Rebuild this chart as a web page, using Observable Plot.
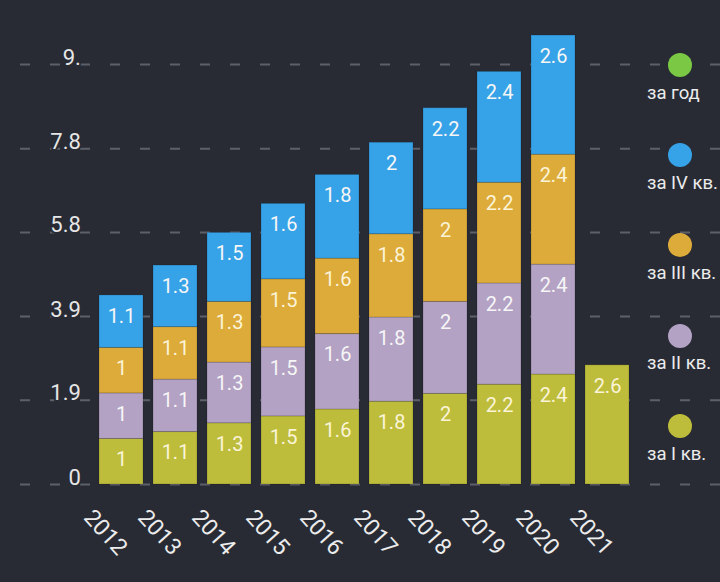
<!DOCTYPE html>
<html><head><meta charset="utf-8">
<script src="https://cdn.jsdelivr.net/npm/d3@7"></script>
<script src="https://cdn.jsdelivr.net/npm/@observablehq/plot@0.6"></script>
<style>
html,body{margin:0;padding:0;background:#282b34;}
#wrap{position:relative;width:720px;height:582px;overflow:hidden;font-family:Roboto,"Noto Sans",sans-serif;}
#wrap svg{position:absolute;left:0;top:0;}
.dot{position:absolute;width:24px;height:24px;border-radius:50%;}
.lab{position:absolute;white-space:nowrap;color:#ececec;font-size:18.5px;line-height:20px;}
</style></head><body><div id="wrap"></div>
<script>
const years = [2012, 2013, 2014, 2015, 2016, 2017, 2018, 2019, 2020, 2021];
const q1 = [0.99, 1.14, 1.33, 1.48, 1.63, 1.80, 1.97, 2.17, 2.39, 2.59];
const q2 = [0.99, 1.14, 1.32, 1.50, 1.64, 1.83, 2.00, 2.20, 2.39, null];
const q3 = [0.99, 1.14, 1.32, 1.48, 1.64, 1.81, 2.01, 2.19, 2.39, null];
const q4 = [1.14, 1.34, 1.50, 1.64, 1.82, 1.99, 2.20, 2.41, 2.59, null];
const seriesNames = ["за I кв.", "за II кв.", "за III кв.", "за IV кв."];
const barColors = ["#bdbd3b", "#b3a2c4", "#ddab3a", "#36a2e7"];
const legendNames = ["за год", "за IV кв.", "за III кв.", "за II кв.", "за I кв."];
const legendColors = ["#7ac843", "#36a2e7", "#ddab3a", "#b3a2c4", "#bdbd3b"];
const yTicks = [0, 1.83, 3.65, 5.48, 7.3, 9.13];
const yTickLabels = ["0", "1.9", "3.9", "5.8", "7.8", "9."];

const series = [q1, q2, q3, q4];
const rows = [];
series.forEach((vals, s) => vals.forEach((v, i) => {
  if (v != null) rows.push({year: years[i], series: seriesNames[s], value: v});
}));
const fmt = v => String(+v.toFixed(1));
const bg = "#282b34";
const mL = 92.4, mR = 84.6, mT = 24, mB = 98;
const creamSeries = new Set([seriesNames[0], seriesNames[2]]);

const chart = Plot.plot({
  width: 720, height: 582,
  marginLeft: mL, marginRight: mR, marginTop: mT, marginBottom: mB,
  style: {background: "transparent", fontFamily: "Roboto, 'Noto Sans', sans-serif", overflow: "visible"},
  x: {type: "band", domain: years, paddingInner: 0.18, paddingOuter: 0.09, axis: null},
  y: {domain: [0, 10], axis: null},
  color: {domain: seriesNames, range: barColors},
  marks: [
    Plot.ruleY(yTicks, {stroke: "#5d6069", strokeWidth: 2, strokeDasharray: "10,20",
      insetLeft: -(mL - 20), insetRight: -mR}),
    Plot.text(yTicks, {y: d => d, text: (d, i) => yTickLabels[i], frameAnchor: "left",
      textAnchor: "end", lineAnchor: "bottom", dx: -12, dy: 0, fill: "#e6e6e6",
      stroke: bg, strokeWidth: 4, paintOrder: "stroke", fontSize: 22}),
    Plot.barY(rows, {x: "year", y: "value", fill: "series", stroke: "#000", strokeOpacity: 0.15, strokeWidth: 1}),
    Plot.text(rows, Plot.filter(d => creamSeries.has(d.series), Plot.stackY2({x: "year", y: "value",
      text: d => fmt(d.value), dy: 21, lineAnchor: "middle", fill: "#fbf4d8", fontSize: 20}))),
    Plot.text(rows, Plot.filter(d => !creamSeries.has(d.series), Plot.stackY2({x: "year", y: "value",
      text: d => fmt(d.value), dy: 21, lineAnchor: "middle", fill: "#f6f6f6", fontSize: 20}))),
    Plot.text(years, {x: d => d, text: d => String(d), frameAnchor: "bottom", rotate: 48,
      dx: -16, dy: 48, lineAnchor: "middle", textAnchor: "middle", fill: "#ececec", fontSize: 23})
  ]
});
const wrap = document.getElementById("wrap");
wrap.appendChild(chart);

legendNames.forEach((name, i) => {
  const cy = 65 + i * 90.2;
  const dot = document.createElement("div");
  dot.className = "dot";
  dot.style.left = (680 - 12) + "px";
  dot.style.top = (cy - 12) + "px";
  dot.style.background = legendColors[i];
  wrap.appendChild(dot);
  const lab = document.createElement("div");
  lab.className = "lab";
  lab.textContent = name;
  lab.style.left = "647px";
  lab.style.top = (cy + 34 - 16.3) + "px";
  wrap.appendChild(lab);
});
</script></body></html>
